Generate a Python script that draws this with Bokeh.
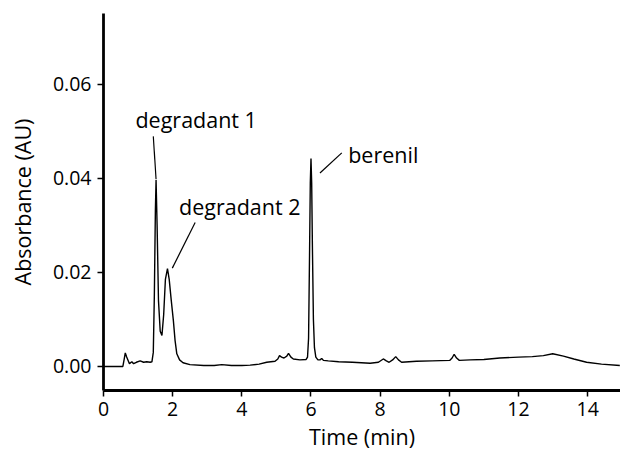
from bokeh.plotting import figure
from bokeh.models import FixedTicker, PrintfTickFormatter, Range1d, ColumnDataSource
from bokeh.core.properties import value
from bokeh.embed import file_html
from bokeh.resources import INLINE

# Chromatogram trace: time (min), absorbance (AU)
time_min = [0.00, 0.30, 0.56, 0.60, 0.63, 0.67, 0.75, 0.82, 0.87, 0.95, 1.06, 1.16, 1.25, 1.35, 1.40,
            1.44, 1.47, 1.50, 1.52, 1.55, 1.59, 1.64, 1.69, 1.74, 1.79, 1.85, 1.90, 1.96, 2.02, 2.07,
            2.12, 2.20, 2.30, 2.50, 2.90, 3.20, 3.42, 3.70, 4.00, 4.24, 4.50, 4.72, 4.96, 5.04, 5.09,
            5.15, 5.22, 5.30, 5.35, 5.42, 5.49, 5.68, 5.86, 5.90, 5.93, 5.96, 5.98, 6.00, 6.02, 6.04,
            6.07, 6.10, 6.14, 6.20, 6.26, 6.31, 6.36, 6.50, 6.80, 7.20, 7.71, 7.95, 8.09, 8.18, 8.26,
            8.36, 8.45, 8.53, 8.62, 9.05, 9.50, 10.01, 10.08, 10.14, 10.21, 10.29, 10.60, 11.00, 11.46,
            12.00, 12.40, 12.72, 12.99, 13.30, 13.60, 13.97, 14.40, 14.93]
absorbance = [0.0000, 0.0000, 0.0000, 0.0016, 0.0029, 0.0020, 0.0006, 0.0010, 0.0006, 0.0009, 0.0012, 0.0009, 0.0010, 0.0009, 0.0010,
              0.0030, 0.0150, 0.0330, 0.0396, 0.0300, 0.0140, 0.0075, 0.0066, 0.0110, 0.0185, 0.0208, 0.0185, 0.0140, 0.0098, 0.0055,
              0.0027, 0.0014, 0.0008, 0.0004, 0.0002, 0.0002, 0.0004, 0.0002, 0.0002, 0.0003, 0.0005, 0.0009, 0.0011, 0.0016, 0.0023,
              0.0020, 0.0018, 0.0022, 0.0028, 0.0020, 0.0016, 0.0014, 0.0015, 0.0020, 0.0060, 0.0250, 0.0390, 0.0442, 0.0390, 0.0260,
              0.0100, 0.0040, 0.0020, 0.0014, 0.0014, 0.0017, 0.0013, 0.0012, 0.0010, 0.0009, 0.0007, 0.0009, 0.0016, 0.0012, 0.0009,
              0.0014, 0.0021, 0.0014, 0.0009, 0.0011, 0.0012, 0.0013, 0.0018, 0.0026, 0.0018, 0.0013, 0.0014, 0.0015, 0.0018,
              0.0020, 0.0021, 0.0023, 0.0027, 0.0022, 0.0016, 0.0009, 0.0005, 0.0002]

# Peak annotations
peak_labels = ["degradant 1", "degradant 2", "berenil"]
label_x = [2.68, 3.94, 8.09]
label_y = [0.0524, 0.0339, 0.0450]
leader_x0 = [1.44, 2.65, 6.89]
leader_y0 = [0.0489, 0.0306, 0.0454]
leader_x1 = [1.52, 1.99, 6.26]
leader_y1 = [0.0398, 0.0209, 0.0411]

x_ticks = [0, 2, 4, 6, 8, 10, 12, 14]
y_ticks = [0.00, 0.02, 0.04, 0.06]

FONT = "Open Sans"

p = figure(width=620, height=457, output_backend="svg", toolbar_location=None,
           x_range=Range1d(0, 14.95), y_range=Range1d(-0.0051, 0.075),
           min_border_left=103, min_border_right=0, min_border_top=13, min_border_bottom=67)
p.outline_line_color = None
p.grid.visible = False

p.line(time_min, absorbance, line_color="black", line_width=1.4)

src = ColumnDataSource(dict(x0=leader_x0, y0=leader_y0, x1=leader_x1, y1=leader_y1))
p.segment("x0", "y0", "x1", "y1", source=src, line_color="black", line_width=1.2)
p.text(label_x, label_y, text=peak_labels, text_font=value(FONT), text_font_size="21.5px",
       text_align="center", text_baseline="middle", text_color="black")

for ax in (p.xaxis[0], p.yaxis[0]):
    ax.axis_line_width = 2.8
    ax.axis_line_color = "black"
    ax.major_tick_line_width = 1.5
    ax.major_tick_line_color = "black"
    ax.major_tick_out = 6
    ax.major_tick_in = 0
    ax.minor_tick_line_color = None
    ax.major_label_text_font = FONT
    ax.major_label_text_font_size = "19.5px"
    ax.major_label_text_color = "black"
    ax.axis_label_text_font = FONT
    ax.axis_label_text_font_size = "21.5px"
    ax.axis_label_text_font_style = "normal"
    ax.axis_label_text_color = "black"

p.xaxis.ticker = FixedTicker(ticks=x_ticks)
p.yaxis.ticker = FixedTicker(ticks=y_ticks)
p.yaxis.formatter = PrintfTickFormatter(format="%.2f")
p.xaxis.axis_label = "Time (min)"
p.yaxis.axis_label = "Absorbance (AU)"
p.xaxis.major_label_standoff = 5
p.yaxis.major_label_standoff = 6
p.xaxis.axis_label_standoff = 3
p.yaxis.axis_label_standoff = 13

open("out.html", "w").write(file_html(p, INLINE))
